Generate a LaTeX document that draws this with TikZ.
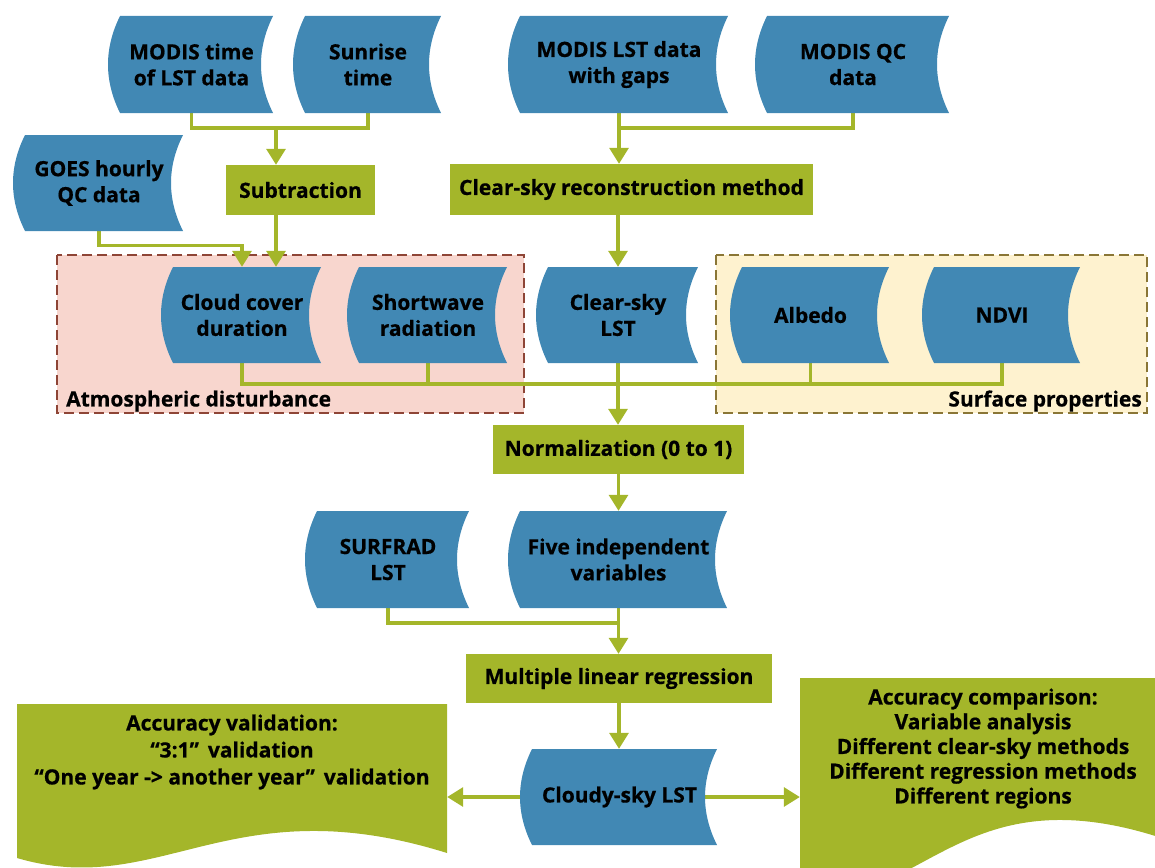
\documentclass[tikz,border=0pt]{standalone}
\usepackage{fontspec}
\setmainfont[BoldFeatures={FakeBold=0.6}]{Open Sans}
\usetikzlibrary{arrows.meta,calc}
\definecolor{dblue}{HTML}{4188B4}
\definecolor{lgreen}{HTML}{A4B62A}
\definecolor{pinkf}{HTML}{F8D6CE}
\definecolor{pinkd}{HTML}{8E4536}
\definecolor{yelf}{HTML}{FEF2CF}
\definecolor{yeld}{HTML}{8A7636}
\pgfdeclarelayer{bg}\pgfdeclarelayer{conn}\pgfsetlayers{bg,conn,main}
\tikzset{
 txt/.style={font=\fontsize{21}{26}\selectfont\bfseries, text=black, align=center, inner sep=0pt},
 gbox/.style={txt, fill=lgreen},
 line/.style={draw=lgreen, line width=3.2pt},
 arr/.style={line, -{Triangle[width=19pt,length=16pt]}},
 region/.style={dash pattern=on 10pt off 5pt, line width=1.5pt},
}
\newcommand\gnode[6]{%
 \node[gbox, minimum width={(#3-#2)*1pt}, minimum height={(#5-#4)*1pt}] (#1) at ({(#2+#3)/2},{(#4+#5)/2}) {#6};}
\newcommand\dshape[6]{%
 \pgfmathsetmacro\bsH{(#5-#4)/3}%
 \fill[dblue] (#2,#4) -- (#3,#4) .. controls ({#3-16},{#4+\bsH}) and ({#3-16},{#5-\bsH}) .. (#3,#5) -- (#2,#5) .. controls ({#2-16},{#5-\bsH}) and ({#2-16},{#4+\bsH}) .. cycle;
 \node[txt, minimum height={(#5-#4)*1pt}, minimum width={(#3-#2-6)*1pt}] (#1) at ({(#2+#3)/2-5},{(#4+#5)/2}) {#6};}
\begin{document}
\begin{tikzpicture}[x=1pt,y=-1pt]
\useasboundingbox (0,0) rectangle (1155,867);
% regions
\begin{pgfonlayer}{bg}
\draw[region, fill=pinkf, draw=pinkd] (57,255) rectangle (524,413);
\draw[region, fill=yelf, draw=yeld] (716,255) rectangle (1147,413);
\end{pgfonlayer}
\node[txt, anchor=west] (atm) at (66,401) {Atmospheric disturbance};
\node[txt, anchor=east] (surf) at (1142,401) {Surface properties};
% data shapes
\dshape{mtime}{120}{273}{16}{113}{MODIS time\\of LST data}
\dshape{sunrise}{305}{441}{16}{113}{Sunrise\\time}
\dshape{mlst}{520}{728}{16}{113}{MODIS LST data\\with gaps}
\dshape{mqc}{767}{949}{16}{113}{MODIS QC\\data}
\dshape{goes}{25}{183}{135}{231}{GOES hourly\\QC data}
\dshape{cloud}{173}{321}{267}{363}{Cloud cover\\duration}
\dshape{short}{359}{507}{267}{363}{Shortwave\\radiation}
\dshape{clsky}{548}{698}{267}{363}{Clear-sky\\LST}
\dshape{albedo}{742}{889}{267}{363}{Albedo}
\dshape{ndvi}{934}{1080}{267}{363}{NDVI}
\dshape{surfrad}{317}{469}{511}{608}{SURFRAD\\LST}
\dshape{five}{520}{727}{511}{608}{Five independent\\variables}
\dshape{cloudy}{532}{717}{749}{845}{Cloudy-sky LST}
% process boxes
\gnode{sub}{226}{375}{165}{215}{Subtraction}
\gnode{recon}{450}{813}{164}{215}{Clear-sky reconstruction method}
\gnode{norm}{493}{744}{425}{474}{Normalization (0 to 1)}
\gnode{mlr}{466}{772}{654}{703}{Multiple linear regression}
% documents
\fill[lgreen] (17,704) -- (447,704) -- (447,853) .. controls (230,785) and (160,900) .. (17,858) -- cycle;
\node[txt, font=\fontsize{21}{27}\selectfont\bfseries, minimum width=430pt] (valid) at (232,752)
 {Accuracy validation:\\“3:1”\, validation\\“One year -> another year”\, validation};
\begin{scope}
\clip (0,0) rectangle (1155,867);
\fill[lgreen] (800,678) -- (1240,678) -- (1240,870) .. controls (970,740) and (940,905) .. (800,900) -- cycle;
\end{scope}
\node[txt, font=\fontsize{21}{24.75}\selectfont\bfseries, minimum width=366pt] (comp) at (983,748.5)
 {Accuracy comparison:\\Variable analysis\\Different clear-sky methods\\Different regression methods\\Different regions};
% connectors
\begin{pgfonlayer}{conn}
\coordinate (b1) at (276,128);
\draw[line] (mtime.south) |- (b1) -| (sunrise.south);
\draw[arr] (b1) -- (b1 |- sub.north);
\coordinate (b1r) at (mlst.south |- b1);
\draw[line] (mqc.south) |- (b1r);
\draw[arr] (mlst.south) -- (mlst.south |- recon.north);
\draw[arr] (goes.south) -- ++(0,14) -| (cloud.north);
\draw[arr] (b1 |- sub.south) -- (b1 |- cloud.north);
\draw[arr] (clsky.north |- recon.south) -- (clsky.north);
\coordinate (b2) at (0,384);
\draw[line] (cloud.south) |- (ndvi.south |- b2) -- (ndvi.south);
\draw[line] (short.south) -- (short.south |- b2);
\draw[line] (albedo.south) -- (albedo.south |- b2);
\draw[arr] (clsky.south) -- (clsky.south |- norm.north);
\draw[arr] (norm.south) -- (norm.south |- five.north);
\coordinate (b3) at (0,623);
\draw[line] (surfrad.south) |- (five.south |- b3);
\draw[arr] (five.south) -- (five.south |- mlr.north);
\draw[arr] (mlr.south) -- (mlr.south |- cloudy.north);
\draw[arr] (cloudy.center) -- (cloudy.center -| valid.east);
\draw[arr] (cloudy.center) -- (cloudy.center -| comp.west);
\end{pgfonlayer}
\end{tikzpicture}
\end{document}
